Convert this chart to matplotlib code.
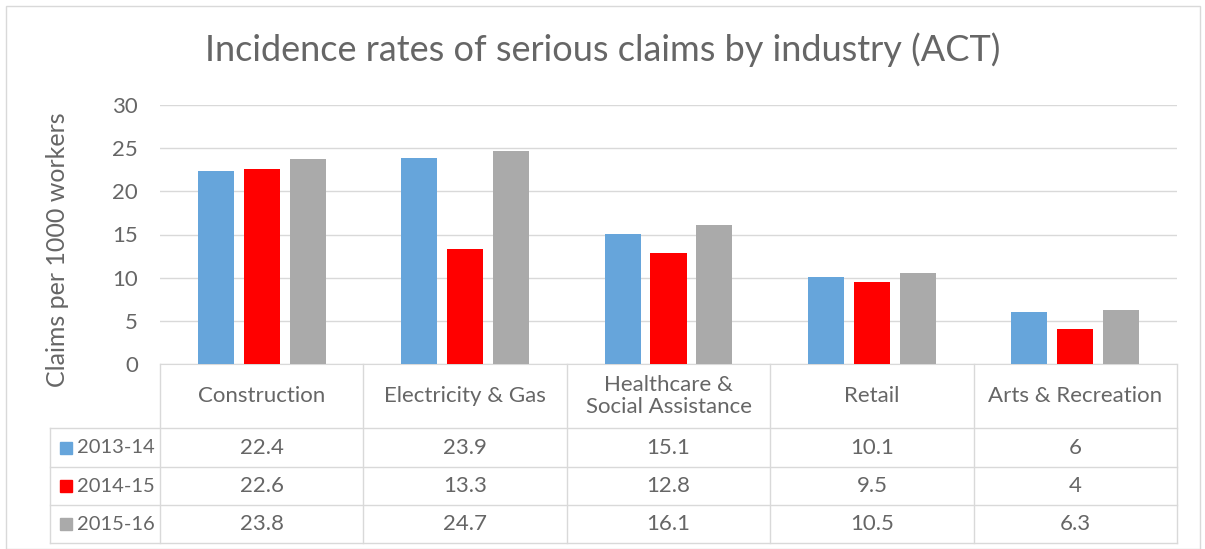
import numpy as np
import matplotlib.pyplot as plt
from matplotlib.patches import Rectangle

industrias = ['Construction', 'Electricity & Gas', 'Healthcare &\nSocial Assistance', 'Retail', 'Arts & Recreation']
periodos = ['2013-14', '2014-15', '2015-16']
v_1314 = [22.4, 23.9, 15.1, 10.1, 6]
v_1415 = [22.6, 13.3, 12.8, 9.5, 4]
v_1516 = [23.8, 24.7, 16.1, 10.5, 6.3]
colores = ['#66a5db', '#ff0000', '#aaaaaa']

plt.rcParams['font.family'] = ['Lato', 'DejaVu Sans']
gris = '#666666'
linea = '#d9d9d9'

W, H = 1205, 549
fig = plt.figure(figsize=(W / 100, H / 100), dpi=100)
fig.patches.append(Rectangle((6 / W, 0), (1200 - 6) / W, (H - 6) / H, transform=fig.transFigure,
                             fill=False, edgecolor='#d9d9d9', linewidth=1))

x0, x1, y0, y1 = 160, 1177, 105, 364
ax = fig.add_axes([x0 / W, 1 - y1 / H, (x1 - x0) / W, (y1 - y0) / H])

series = [v_1314, v_1415, v_1516]
x = np.arange(len(industrias))
ancho = 0.177
paso = 0.226
for i, vals in enumerate(series):
    ax.bar(x + (i - 1) * paso, vals, ancho, color=colores[i], zorder=3)

ax.set_xlim(-0.5, len(industrias) - 0.5)
ax.set_ylim(0, 30)
ax.set_yticks(range(0, 31, 5))
ax.yaxis.grid(True, color=linea, linewidth=1, zorder=0)
ax.tick_params(axis='y', length=0, labelsize=16, labelcolor=gris, pad=16)
ax.set_xticks([])
for s in ['top', 'right', 'left']:
    ax.spines[s].set_visible(False)
ax.spines['bottom'].set_color(linea)

ax.set_ylabel('Claims per 1000 workers', fontsize=18, color=gris)
ax.yaxis.set_label_coords(-0.089, 0.44)
fig.text(0.5, 1 - 50 / H, 'Incidence rates of serious claims by industry (ACT)',
         ha='center', va='center', fontsize=26, color=gris)

# tabla de datos
def fy(py):
    return (y1 - py) / (y1 - y0)

def fx(px):
    return (px - x0) / (x1 - x0)

hdr = fy(428)
filas = [fy(428), fy(467), fy(505), fy(543)]
izq = fx(50)
n = len(industrias)
kw = dict(transform=ax.transAxes, clip_on=False, color=linea, linewidth=1)
for k in range(n + 1):
    ax.plot([k / n, k / n], [0, filas[-1]], **kw)
ax.plot([izq, izq], [filas[0], filas[-1]], **kw)
for f in filas:
    ax.plot([izq, 1], [f, f], **kw)

for k, nombre in enumerate(industrias):
    ax.text((k + 0.5) / n, hdr / 2, nombre, transform=ax.transAxes, ha='center', va='center',
            fontsize=16, color=gris, linespacing=1.1)
for i, vals in enumerate(series):
    yc = (filas[i] + filas[i + 1]) / 2
    ax.add_patch(Rectangle((fx(60), yc - 6 / (y1 - y0)), 12 / (x1 - x0), 12 / (y1 - y0),
                           transform=ax.transAxes, clip_on=False, color=colores[i]))
    ax.text(fx(77), yc, periodos[i], transform=ax.transAxes, ha='left', va='center',
            fontsize=14.5, color=gris)
    for k, v in enumerate(vals):
        ax.text((k + 0.5) / n, yc, f'{v:g}', transform=ax.transAxes, ha='center', va='center',
                fontsize=16, color=gris)

fig.savefig('out.png', dpi=100)
